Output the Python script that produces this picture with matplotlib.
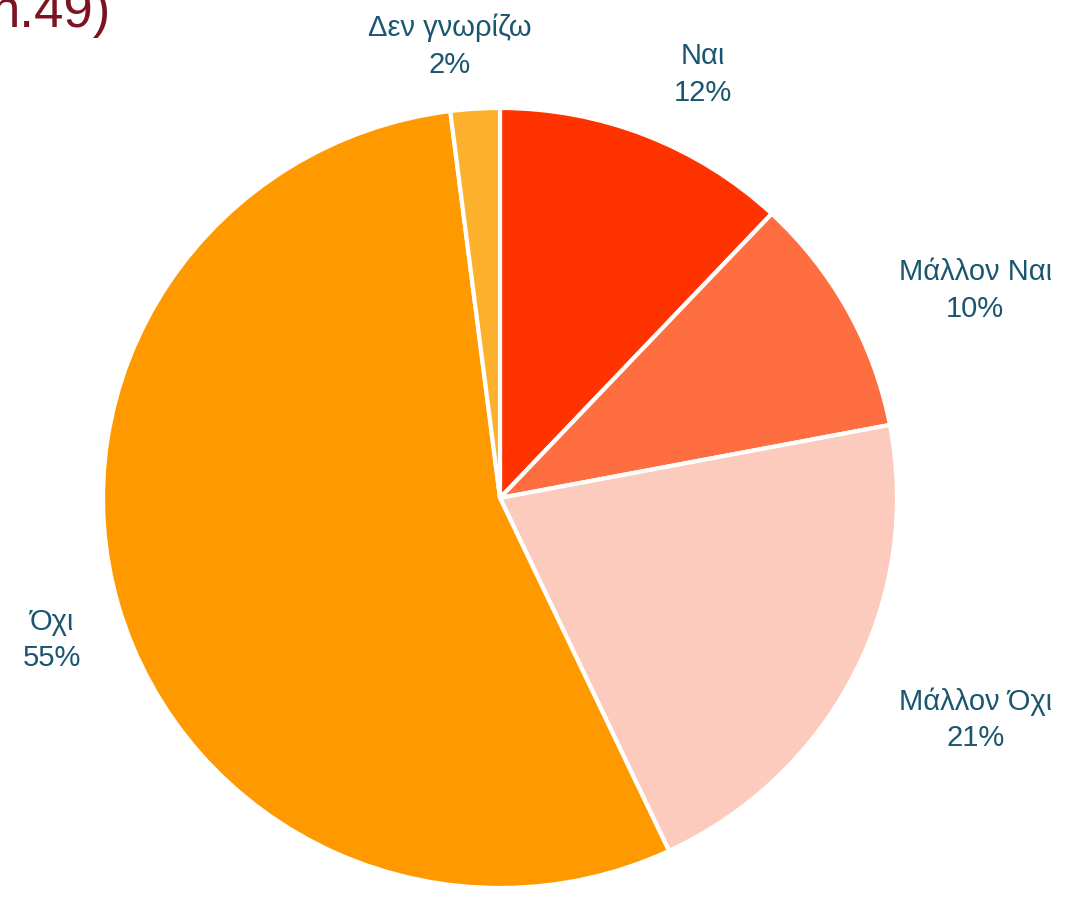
import numpy as np
import matplotlib
matplotlib.use("Agg")
import matplotlib.pyplot as plt

categories = ["Ναι", "Μάλλον Ναι", "Μάλλον Όχι", "Όχι", "Δεν γνωρίζω"]
values = [12, 10, 21, 55, 2]
colors = ["#FF3300", "#FF6E40", "#FDCBBD", "#FF9900", "#FBB12C"]
title_text = "n.49)"

W, H = 1073, 901
fig = plt.figure(figsize=(W / 100, H / 100), dpi=100)

# pie axes: centre ~ (500, 498) px, radii ~397 x 390 px
cx, cy, rx, ry = 500, 498, 397, 390
ax = fig.add_axes([(cx - rx) / W, (H - cy - ry) / H, 2 * rx / W, 2 * ry / H])
wedges, _ = ax.pie(values, colors=colors, startangle=90, counterclock=False,
                   wedgeprops=dict(edgecolor="white", linewidth=3))
ax.set_aspect("auto")
ax.set_xlim(-1, 1)
ax.set_ylim(-1, 1)

# label placement (radius factor, angle offset in degrees)
label_r = [1.20, 1.31, 1.325, 1.185, 1.166]
label_da = [-3.6, -4.8, 1.6, 1.7, 2.6]
for w, cat, v, lr, da in zip(wedges, categories, values, label_r, label_da):
    mid = np.deg2rad((w.theta1 + w.theta2) / 2 + da)
    ax.text(lr * np.cos(mid), lr * np.sin(mid), f"{cat}\n{v}%",
            ha="center", va="center", multialignment="center",
            fontsize=21, color="#1B5670", family="Liberation Sans",
            linespacing=1.4, clip_on=False)

fig.text(111 / W, 1 - 27 / H, title_text, ha="right", va="baseline",
         fontsize=38, color="#7B1420", family="Liberation Sans")

fig.savefig("out.png", dpi=100, facecolor="white")
